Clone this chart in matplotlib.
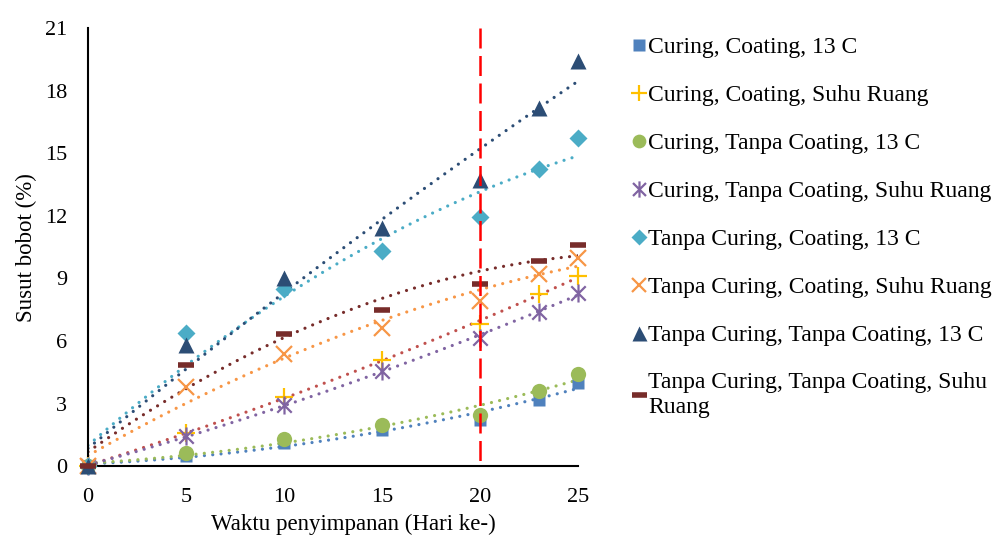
import numpy as np
import matplotlib
matplotlib.use('Agg')
import matplotlib.pyplot as plt
from matplotlib.path import Path
from matplotlib.lines import Line2D

plt.rcParams['font.family'] = ['Liberation Serif', 'DejaVu Serif']

hari = [0, 5, 10, 15, 20, 23, 25]

labels = ['Curing, Coating, 13 C',
          'Curing, Coating, Suhu Ruang',
          'Curing, Tanpa Coating, 13 C',
          'Curing, Tanpa Coating, Suhu Ruang',
          'Tanpa Curing, Coating, 13 C',
          'Tanpa Curing, Coating, Suhu Ruang',
          'Tanpa Curing, Tanpa Coating, 13 C',
          'Tanpa Curing, Tanpa Coating, Suhu\nRuang']

c_coat_13 = [0, 0.5, 1.1, 1.75, 2.2, 3.15, 4.0]
c_coat_sr = [0, 1.6, 3.3, 5.1, 6.8, 8.25, 9.1]
c_tc_13 = [0, 0.65, 1.3, 1.95, 2.45, 3.6, 4.4]
c_tc_sr = [0, 1.45, 2.95, 4.55, 6.15, 7.4, 8.3]
tc_coat_13 = [0, 6.4, 8.5, 10.3, 11.95, 14.25, 15.75]
tc_coat_sr = [0, 3.8, 5.4, 6.6, 7.9, 9.2, 10.0]
tc_tc_13 = [0, 5.8, 9.0, 11.4, 13.7, 17.15, 19.45]
tc_tc_sr = [0, 4.85, 6.35, 7.5, 8.75, 9.85, 10.6]

series = [c_coat_13, c_coat_sr, c_tc_13, c_tc_sr,
          tc_coat_13, tc_coat_sr, tc_tc_13, tc_tc_sr]

marker_colors = ['#4F81BD', '#FFC000', '#9BBB59', '#8064A2',
                 '#4BACC6', '#F79646', '#2C4D75', '#772C2A']
trend_colors = ['#4F81BD', '#C0504D', '#9BBB59', '#8064A2',
                '#4BACC6', '#F79646', '#2C4D75', '#772C2A']

# asterisk marker like excel: x plus vertical bar
ast = Path([(-1, -1), (1, 1), (-1, 1), (1, -1), (0, -1.25), (0, 1.25)],
           [Path.MOVETO, Path.LINETO, Path.MOVETO, Path.LINETO, Path.MOVETO, Path.LINETO])

mstyle = [
    dict(marker='s', ms=9, mec='none'),
    dict(marker='+', ms=13, mew=1.6),
    dict(marker='o', ms=11, mec='none'),
    dict(marker=ast, ms=13, mew=1.6),
    dict(marker='D', ms=9, mec='none'),
    dict(marker='x', ms=11, mew=1.6),
    dict(marker='^', ms=12, mec='none'),
    dict(marker='_', ms=12, mew=4),
]

fig = plt.figure(figsize=(10, 5.42), dpi=100)
ax = fig.add_axes([0.088, 0.14, 0.49, 0.808])

xs = np.linspace(0, 25, 200)
for i, ys in enumerate(series):
    k = np.polyfit(hari, ys, 2)
    ax.plot(xs, np.polyval(k, xs), color=trend_colors[i], lw=2.3,
            linestyle=(0, (0.01, 2.6)), dash_capstyle='round', zorder=2)
    ax.plot(hari, ys, linestyle='none', color=marker_colors[i],
            clip_on=False, zorder=3 + i * 0.01, **mstyle[i])

# garis batas hari ke-20
ax.plot([20, 20], [21, 0], color='red', lw=1.8, linestyle=(0, (8, 3)),
        zorder=10, clip_on=False)

ax.set_xlim(0, 25)
ax.set_ylim(0, 21)
ax.set_xticks([0, 5, 10, 15, 20, 25])
ax.set_yticks(np.arange(0, 22, 3))
ax.tick_params(length=0, labelsize=16)
ax.tick_params(axis='x', pad=16)
ax.tick_params(axis='y', pad=15)
for s in ['top', 'right']:
    ax.spines[s].set_visible(False)
ax.spines['left'].set_linewidth(1.5)
ax.spines['bottom'].set_linewidth(1.5)
ax.set_xlabel('Waktu penyimpanan (Hari ke-)', fontsize=16.5, labelpad=5)
ax.xaxis.label.set_x(0.541)
ax.set_ylabel('Susut bobot (%)', fontsize=16.5, labelpad=6)

leg_handles = []
for i in range(8):
    st = dict(mstyle[i])
    st['ms'] = st['ms'] * 0.9
    leg_handles.append(Line2D([], [], linestyle='none', color=marker_colors[i], **st))
fig.legend(leg_handles, labels, loc='upper left', bbox_to_anchor=(0.622, 0.95),
           frameon=False, fontsize=17, handlelength=0.6, handletextpad=0.1,
           labelspacing=1.12, borderaxespad=0)

fig.savefig('out.png', dpi=100)
